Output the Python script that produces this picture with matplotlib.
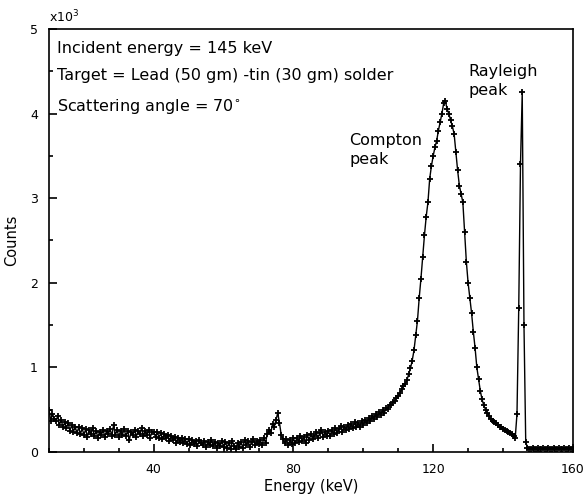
import matplotlib

matplotlib.use("Agg")
import matplotlib.pyplot as plt
from matplotlib.ticker import MultipleLocator
import numpy as np

# energy grid (keV), 0.5 keV channels from 10 to 160
e_start, e_step = 10.0, 0.5

# counts, channel by channel
counts = [
    # 10 - 20
    500, 370, 450, 390, 370, 420, 320, 380, 290, 350,
    280, 340, 250, 320, 240, 300, 220, 290, 210, 280,
    # 20 - 30
    200, 270, 180, 260, 210, 280, 190, 250, 170, 240,
    200, 260, 180, 250, 210, 270, 190, 320, 200, 260,
    # 30 - 40
    180, 250, 200, 270, 190, 250, 140, 240, 200, 260,
    180, 250, 210, 280, 190, 250, 200, 260, 170, 240,
    # 40 - 50
    230, 180, 240, 170, 220, 150, 210, 160, 200, 130,
    190, 140, 180, 110, 170, 120, 160, 100, 150, 90,
    # 50 - 60
    150, 80, 140, 90, 130, 70, 140, 100, 80, 130,
    60, 120, 80, 140, 70, 120, 50, 110, 70, 130,
    # 60 - 70
    60, 120, 50, 110, 40, 130, 70, 30, 110, 60,
    120, 50, 140, 80, 130, 60, 120, 150, 80, 130,
    # 70 - 80
    90, 140, 80, 160, 110, 210, 260, 220, 330, 300,
    380, 460, 340, 200, 150, 100, 150, 80, 140, 90,
    # 80 - 90
    160, 100, 170, 120, 190, 130, 180, 110, 200, 140,
    210, 150, 190, 230, 160, 220, 260, 180, 240, 190,
    # 90 - 100
    250, 190, 260, 210, 280, 220, 270, 310, 240, 300,
    260, 320, 270, 330, 280, 350, 290, 340, 300, 360,
    # 100 - 110
    320, 380, 340, 400, 360, 420, 390, 450, 410, 470,
    440, 490, 460, 520, 510, 560, 550, 590, 600, 640,
    # 110 - 120
    660, 700, 740, 780, 800, 850, 920, 990, 1080, 1200,
    1380, 1550, 1820, 2050, 2300, 2560, 2780, 2950, 3230, 3380,
    # 120 - 130
    3500, 3600, 3680, 3800, 3900, 4000, 4120, 4150, 4050, 4000,
    3920, 3850, 3760, 3550, 3330, 3150, 3050, 2950, 2600, 2250,
    # 130 - 140
    2000, 1820, 1640, 1420, 1230, 1000, 860, 720, 620, 550,
    500, 460, 420, 390, 370, 350, 340, 320, 300, 290,
    # 140 - 150
    270, 260, 250, 240, 220, 210, 190, 170, 450, 1700,
    3400, 4250, 1500, 120, 50, 40, 30, 50, 40, 30,
    # 150 - 160
    50, 40, 30, 50, 40, 30, 50, 40, 30, 50,
    40, 30, 50, 40, 30, 50, 40, 30, 50, 40,
    30,
]

energy = e_start + e_step * np.arange(len(counts))
counts_k = np.array(counts) / 1000.0

plt.rcParams["font.family"] = ["DejaVu Sans"]

fig = plt.figure(figsize=(5.86, 5.01), dpi=100)
ax = fig.add_axes([0.0836, 0.098, 0.894, 0.844])

ax.plot(energy, counts_k, color="black", linewidth=1.0, marker="+",
        markersize=5, markeredgewidth=1.3)

ax.set_xlim(10, 160)
ax.set_ylim(0, 5)
ax.xaxis.set_major_locator(MultipleLocator(40))
ax.xaxis.set_minor_locator(MultipleLocator(10))
ax.yaxis.set_major_locator(MultipleLocator(1))
ax.yaxis.set_minor_locator(MultipleLocator(0.5))
ax.tick_params(which="both", direction="in", top=False, right=False,
               labelsize=9, width=1.2)
ax.tick_params(which="major", length=6, pad=8)
ax.tick_params(which="minor", length=3)
for s in ax.spines.values():
    s.set_linewidth(1.2)

ax.set_xlabel("Energy (keV)", fontsize=10.5, labelpad=2)
ax.set_ylabel("Counts", fontsize=10.5, labelpad=8)
ax.text(0.0, 1.01, "x10$^3$", transform=ax.transAxes, fontsize=9,
        ha="left", va="bottom")

ann = dict(transform=ax.transAxes, fontsize=11.5, va="center")
ax.text(0.015, 0.953, "Incident energy = 145 keV", **ann)
ax.text(0.015, 0.891, "Target = Lead (50 gm) -tin (30 gm) solder", **ann)
ax.text(0.015, 0.818, "Scattering angle = 70$^{\\circ}$", **ann)
ax.text(0.573, 0.714, "Compton\npeak", linespacing=1.4, **ann)
ax.text(0.80, 0.877, "Rayleigh\npeak", linespacing=1.4, **ann)

fig.savefig("out.png", dpi=100)
plt.close(fig)
